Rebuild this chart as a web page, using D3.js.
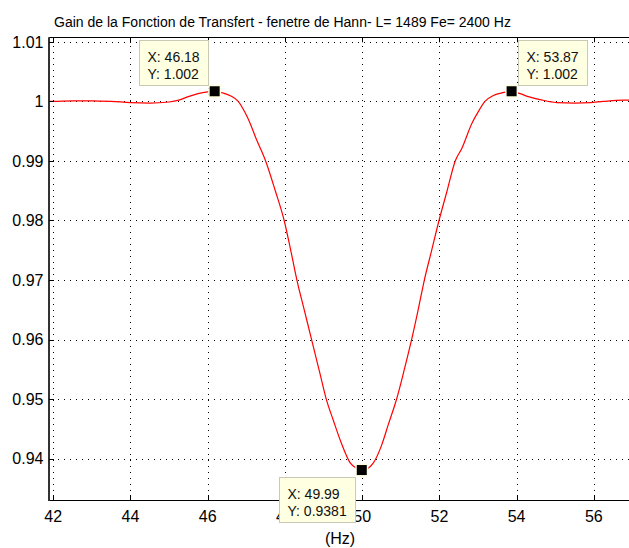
<!DOCTYPE html>
<html>
<head>
<meta charset="utf-8">
<script src="https://cdn.jsdelivr.net/npm/d3@7"></script>
<style>
  html, body { margin: 0; padding: 0; background: #ffffff; }
  svg { display: block; font-family: "Liberation Sans", Arial, Helvetica, sans-serif; }
</style>
</head>
<body>
<svg id="chart" width="629" height="548"></svg>
<script>
// ---------- data ----------
const title = "Gain de la Fonction de Transfert - fenetre de Hann- L= 1489 Fe= 2400 Hz";
const xLabel = "(Hz)";
const freq = [41.8, 42.0, 42.5, 43.0, 43.5, 44.0, 44.5, 45.0, 45.25, 45.5, 45.75, 46.0, 46.18, 46.4, 46.6, 46.79,
  47.0, 47.1, 47.25, 47.5, 47.75, 47.98, 48.15, 48.31, 48.5, 48.69, 48.9, 49.07, 49.25, 49.45, 49.69, 49.85,
  49.99, 50.15, 50.29, 50.5, 50.68, 50.9, 51.1, 51.28, 51.45, 51.61, 51.8, 51.99, 52.2, 52.41, 52.58, 52.84,
  53.0, 53.18, 53.4, 53.6, 53.87, 54.09, 54.3, 54.61, 55.04, 55.5, 55.9, 56.25, 56.77, 57.0];
const gain = [1.0000, 1.0000, 1.0001, 1.0001, 1.0000, 0.9998, 0.99972, 0.9999, 1.0002, 1.0008, 1.0013, 1.0016, 1.0017, 1.0014, 1.0009, 1.0000,
  0.9977, 0.9963, 0.9938, 0.9900, 0.9850, 0.9800, 0.9750, 0.9700, 0.9650, 0.9600, 0.9545, 0.9500, 0.9465, 0.9428, 0.9393, 0.9384,
  0.9381, 0.9384, 0.9393, 0.9422, 0.9458, 0.9502, 0.9552, 0.9600, 0.9650, 0.9700, 0.9750, 0.9800, 0.9850, 0.9900, 0.9921, 0.9963,
  0.9982, 1.0000, 1.0010, 1.0014, 1.0017, 1.0013, 1.0008, 1.0003, 0.9998, 0.99972, 0.9998, 1.0000, 1.0002, 1.0002];
const xTicks = [42, 44, 46, 48, 50, 52, 54, 56];
const yTicks = [0.94, 0.95, 0.96, 0.97, 0.98, 0.99, 1.00, 1.01];
const yTickLabels = ["0.94", "0.95", "0.96", "0.97", "0.98", "0.99", "1", "1.01"];
const tipX = [46.18, 53.87, 49.99];
const tipY = [1.0017, 1.0017, 0.9381];
const tipSide = ["upleft", "upright", "downleft"];

// ---------- layout ----------
(function () {
const svg = d3.select("#chart");
const pLeft = 49, pRight = 629, pTop = 37.3, pBottom = 500;
const x = d3.scaleLinear().domain([41.89, 56.91]).range([pLeft, pRight]);
const y = d3.scaleLinear().domain([0.93307, 1.01076]).range([pBottom, pTop]);
const crisp = v => Math.round(v) + 0.5;

svg.append("defs").append("clipPath").attr("id", "plotclip")
  .append("rect").attr("x", pLeft).attr("y", pTop).attr("width", pRight - pLeft).attr("height", pBottom - pTop);

// grid (dotted)
const grid = svg.append("g").attr("stroke", "#000").attr("stroke-width", 1)
  .attr("stroke-dasharray", "1,5");
grid.selectAll("line.v").data(xTicks).join("line").attr("class", "v")
  .attr("x1", d => crisp(x(d))).attr("x2", d => crisp(x(d)))
  .attr("y1", 40).attr("y2", pBottom);
grid.selectAll("line.h").data(yTicks).join("line").attr("class", "h")
  .attr("y1", d => crisp(y(d))).attr("y2", d => crisp(y(d)))
  .attr("x1", 52).attr("x2", pRight);

// curve
const pts = freq.map((f, i) => [f, gain[i]]);
svg.append("path").datum(pts)
  .attr("clip-path", "url(#plotclip)")
  .attr("fill", "none").attr("stroke", "#ff0000").attr("stroke-width", 1.2)
  .attr("d", d3.line().x(d => x(d[0])).y(d => y(d[1])).curve(d3.curveMonotoneX));

// axes (box lines + inward ticks)
const ax = svg.append("g").attr("stroke", "#000").attr("fill", "none");
ax.append("line").attr("x1", pLeft).attr("x2", pRight).attr("y1", pBottom + 0.5).attr("y2", pBottom + 0.5).attr("stroke-width", 1);
ax.append("line").attr("x1", pLeft).attr("x2", pRight).attr("y1", 37.5).attr("y2", 37.5).attr("stroke-width", 1);
ax.append("line").attr("x1", pLeft).attr("x2", pLeft).attr("y1", pTop).attr("y2", pBottom + 1).attr("stroke-width", 2).attr("stroke", "#333");
ax.selectAll("line.xb").data(xTicks).join("line").attr("class", "xb")
  .attr("x1", d => crisp(x(d))).attr("x2", d => crisp(x(d))).attr("y1", pBottom).attr("y2", pBottom - 5);
ax.selectAll("line.xt").data(xTicks).join("line").attr("class", "xt")
  .attr("x1", d => crisp(x(d))).attr("x2", d => crisp(x(d))).attr("y1", pTop).attr("y2", pTop + 5);
ax.selectAll("line.yl").data(yTicks).join("line").attr("class", "yl")
  .attr("y1", d => crisp(y(d))).attr("y2", d => crisp(y(d))).attr("x1", pLeft).attr("x2", pLeft + 5);

// tick labels
svg.append("g").selectAll("text").data(xTicks).join("text")
  .attr("x", d => x(d)).attr("y", pBottom + 21.7)
  .attr("text-anchor", "middle").attr("font-size", 16).attr("fill", "#000")
  .text(d => d);
svg.append("g").selectAll("text").data(yTicks).join("text")
  .attr("x", 43.5).attr("y", d => y(d) + 5.7)
  .attr("text-anchor", "end").attr("font-size", 16).attr("fill", "#000")
  .text((d, i) => yTickLabels[i]);

// title and x label
svg.append("text").attr("x", 282.5).attr("y", 27).attr("text-anchor", "middle")
  .attr("font-size", 14).attr("fill", "#000").text(title);
svg.append("text").attr("x", 340).attr("y", 544).attr("text-anchor", "middle")
  .attr("font-size", 16).attr("fill", "#000").text(xLabel);

// data tips
const fmt = d3.format(".4");
tipX.forEach((tx, i) => {
  const cx = x(tx), cy = y(tipY[i]);
  const g = svg.append("g");
  g.append("rect").attr("x", cx - 6.5).attr("y", cy - 6.5).attr("width", 13).attr("height", 13)
    .attr("fill", "#ffffe0");
  g.append("rect").attr("x", cx - 5).attr("y", cy - 5).attr("width", 10).attr("height", 10)
    .attr("fill", "#000");
  const box = svg.append("g");
  const rect = box.append("rect").attr("fill", "#ffffe1").attr("stroke", "#c9c9b4").attr("stroke-width", 1);
  const t1 = box.append("text").attr("font-size", 14).attr("fill", "#111").text("X: " + fmt(tx));
  const t2 = box.append("text").attr("font-size", 14).attr("fill", "#111").text("Y: " + fmt(tipY[i]));
  const tw = Math.max(t1.node().getComputedTextLength(), t2.node().getComputedTextLength());
  const bw = Math.round(tw + 17), bh = 45;
  let bx, by;
  if (tipSide[i] === "upleft") { bx = cx - 6.5 - bw; by = cy - 6 - bh; }
  else if (tipSide[i] === "upright") { bx = cx + 6.5; by = cy - 6 - bh; }
  else { bx = cx - 6.5 - bw; by = cy + 7; }
  bx = Math.round(bx) + 0.5; by = Math.round(by) + 0.5;
  rect.attr("x", bx).attr("y", by).attr("width", bw).attr("height", bh);
  t1.attr("x", bx + 8).attr("y", by + 21.5);
  t2.attr("x", bx + 8).attr("y", by + 38);
});
})();
</script>
</body>
</html>
